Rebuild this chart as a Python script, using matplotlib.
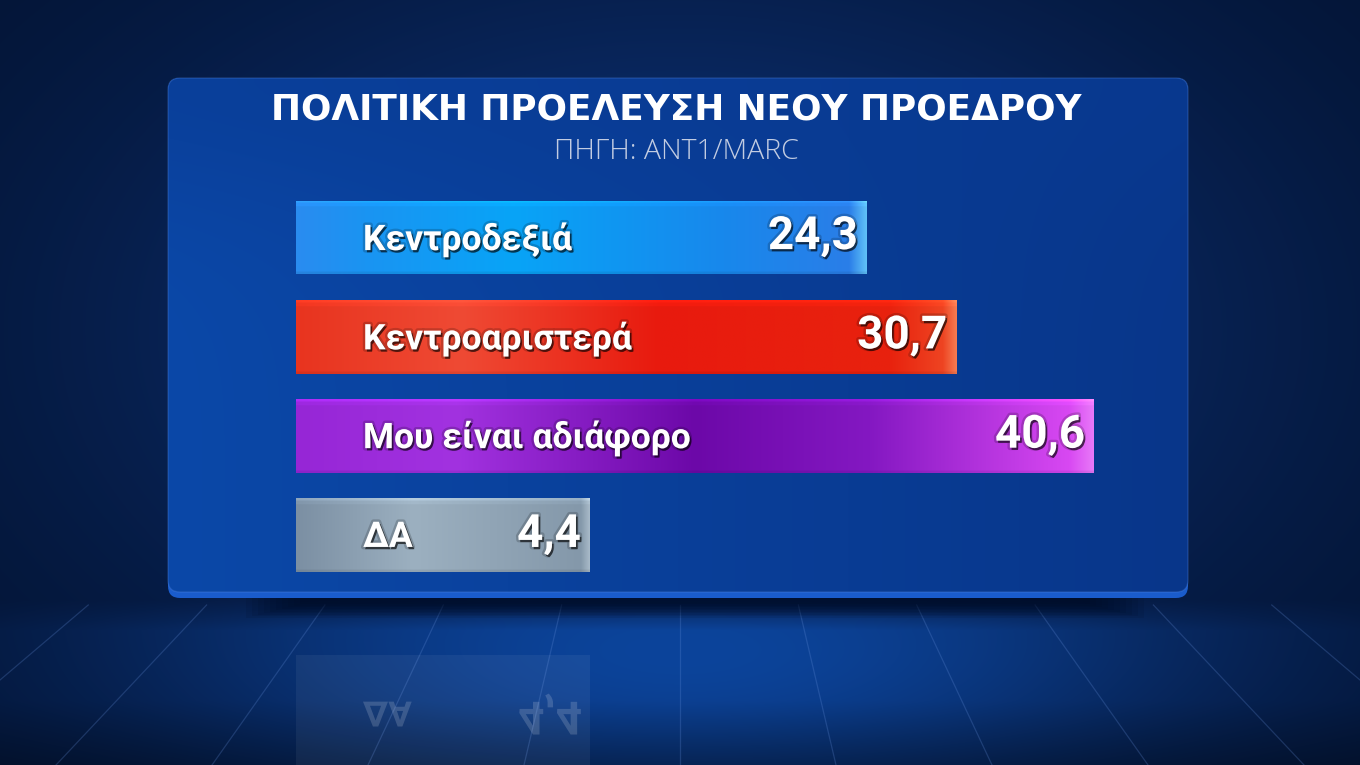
import numpy as np
import matplotlib
matplotlib.use("Agg")
import matplotlib.pyplot as plt
from matplotlib.patches import FancyBboxPatch, Rectangle, PathPatch
from matplotlib.colors import to_rgb
import matplotlib.patheffects as pe
from matplotlib.textpath import TextPath
from matplotlib.font_manager import FontProperties
from matplotlib.transforms import Affine2D

# ---------------- data ----------------
categories = ["Κεντροδεξιά", "Κεντροαριστερά", "Μου είναι αδιάφορο", "ΔΑ"]
values = [24.3, 30.7, 40.6, 4.4]
value_labels = ["24,3", "30,7", "40,6", "4,4"]
title = "ΠΟΛΙΤΙΚΗ ΠΡΟΕΛΕΥΣΗ ΝΕΟΥ ΠΡΟΕΔΡΟΥ"
subtitle = "ΠΗΓΗ: ANT1/MARC"

# ---------------- style ----------------
BASE = -16.7          # visual start of every bar (bars carry a fixed stub)
XMAX = 40.6
LABEL_FONT = ["Roboto", "DejaVu Sans"]
bar_stops = [
    [(0.0, "#2a8cf0"), (0.12, "#1a94f2"), (0.38, "#08a4f7"), (0.75, "#1888ec"), (0.97, "#2a7ee8"), (1.0, "#5fc0f8")],
    [(0.0, "#e8341f"), (0.25, "#ef4a34"), (0.55, "#e81a0e"), (0.9, "#e8220e"), (0.98, "#ee4422"), (1.0, "#f57a50")],
    [(0.0, "#9626d6"), (0.2, "#a232e0"), (0.5, "#6c08a8"), (0.72, "#8418c2"), (0.97, "#d848f2"), (1.0, "#e878f8")],
    [(0.0, "#7b8fa3"), (0.4, "#9cb0c0"), (0.97, "#8498aa"), (1.0, "#a8bac8")],
]

W, H = 1360, 765
fig = plt.figure(figsize=(W / 100, H / 100), dpi=100)

# ---------------- background ----------------
bg = fig.add_axes([0, 0, 1, 1])
bg.set_xlim(0, W)
bg.set_ylim(H, 0)
bg.axis("off")

yy, xx = np.mgrid[0:H, 0:W].astype(float)
dark = np.array([3, 18, 48]) / 255
mid = np.array([12, 50, 118]) / 255
floor = np.array([12, 68, 155]) / 255
w1 = np.exp(-(((xx - 680) / 760) ** 2 + ((yy - 330) / 480) ** 2) * 1.6)
img = dark + (mid - dark) * w1[..., None]
fl = np.clip((yy - 600) / 30, 0, 1)
w2 = np.exp(-(((xx - 680) / 560) ** 2 + ((yy - 650) / 170) ** 2) * 1.4) * fl
img = img + (floor - img) * w2[..., None]
bot = np.clip((yy - 700) / 65, 0, 1) * 0.25
img = img * (1 - bot[..., None])
bg.imshow(np.clip(img, 0, 1), extent=(0, W, H, 0), aspect="auto", zorder=0, interpolation="bilinear")

# floor lines (perspective)
vpx, vpy = 680, 102
for k in range(-7, 8):
    xt = vpx + 120 * k
    y0, y1 = 605, 765
    x0 = vpx + (xt - vpx) * (y0 - vpy) / (612 - vpy)
    x1 = vpx + (xt - vpx) * (y1 - vpy) / (612 - vpy)
    bg.plot([x0, x1], [y0, y1], color="#6a94e0", alpha=0.24, lw=0.9, zorder=1)

# panel shadow
for j in range(10):
    bg.add_patch(Rectangle((300 - j * 6, 598), 790 + j * 12, 6 + j * 1.5,
                           facecolor="#000a20", alpha=0.10, lw=0, zorder=2))

# panel (lip + body)
r = 12
px0, px1, py0, py1 = 168, 1188, 78, 598
lip = FancyBboxPatch((px0 + r, py0 + r), px1 - px0 - 2 * r, py1 - py0 - 2 * r,
                     boxstyle=f"round,pad={r}", facecolor="#1a5ccc", edgecolor="none", zorder=3)
bg.add_patch(lip)
panel = FancyBboxPatch((px0 + r, py0 + r), px1 - px0 - 2 * r, py1 - py0 - 6 - 2 * r,
                       boxstyle=f"round,pad={r}", facecolor="none",
                       edgecolor=(0.35, 0.55, 0.9, 0.28), lw=1.0, zorder=5)
bg.add_patch(panel)
pw, ph = px1 - px0, py1 - py0
py, pxg = np.mgrid[0:ph, 0:pw].astype(float)
cl = np.array([11, 72, 168]) / 255
cr = np.array([8, 54, 138]) / 255
ct = np.array([9, 58, 146]) / 255
t = (pxg / pw)[..., None]
pimg = cl + (cr - cl) * t
vt = np.exp(-(py / 140) ** 2)[..., None]
pimg = pimg + (ct - pimg) * vt * 0.6
pim = bg.imshow(np.clip(pimg, 0, 1), extent=(px0, px1, py1, py0), aspect="auto", zorder=4)
pim.set_clip_path(FancyBboxPatch((px0 + r, py0 + r), pw - 2 * r, ph - 6 - 2 * r,
                                 boxstyle=f"round,pad={r}", transform=bg.transData))
bg.set_xlim(0, W)
bg.set_ylim(H, 0)

# ---------------- titles ----------------
fig.text(676.5 / W, 1 - 110 / H, title, ha="center", va="center", color="white",
         fontsize=25.8, fontweight="bold", family=["DejaVu Sans"], zorder=10)
fig.text(676 / W, 1 - 152 / H, subtitle, ha="center", va="center", color="#c2cce2",
         fontsize=20.5, fontweight="light", family=["Open Sans", "DejaVu Sans"], zorder=10)

# ---------------- bars ----------------
top_px, bot_px = 187.85, 585.0
ax = fig.add_axes([296 / W, 1 - bot_px / H, (1094 - 296) / W, (bot_px - top_px) / H])
ax.set_xlim(BASE, XMAX)
ax.set_ylim(3.5, -0.5)
ax.axis("off")
ax.patch.set_alpha(0)
ax.set_autoscale_on(False)

bh = 0.745
ypos = np.arange(len(values))
bars = ax.barh(ypos, [v - BASE for v in values], left=BASE, height=bh, color="none", lw=0, zorder=3)


def grad_img(stops, n=400, m=60):
    xs = np.linspace(0, 1, n)
    pos = [s[0] for s in stops]
    cols = np.array([to_rgb(s[1]) for s in stops])
    row = np.stack([np.interp(xs, pos, cols[:, c]) for c in range(3)], axis=-1)
    vert = np.ones(m)
    vert[:2] = 1.16
    vert[2:5] = 1.05
    vert[-2:] = 0.93
    out = row[None, :, :] * vert[:, None, None]
    return np.clip(out, 0, 1)


for i, (b, v) in enumerate(zip(bars, values)):
    im = ax.imshow(grad_img(bar_stops[i]), extent=(BASE, v, i + bh / 2, i - bh / 2),
                   aspect="auto", zorder=2, interpolation="bilinear")
    im.set_clip_path(b)

ax.set_xlim(BASE, XMAX)
ax.set_ylim(3.5, -0.5)

fx = [pe.SimplePatchShadow(offset=(1.2, -1.6), shadow_rgbFace="black", alpha=0.6),
      pe.Stroke(linewidth=3.5, foreground="black", alpha=0.18), pe.Normal()]
for i, (lab, v, vl) in enumerate(zip(categories, values, value_labels)):
    ax.annotate(lab, xy=(BASE, i), xytext=(67 * 0.72, -1.5), textcoords="offset points",
                ha="left", va="center", color="white", fontsize=25.5, fontweight="bold",
                family=LABEL_FONT, path_effects=fx, zorder=6)
    ax.annotate(vl, xy=(v, i), xytext=(-9 * 0.72, 1), textcoords="offset points",
                ha="right", va="center", color="white", fontsize=33, fontweight="bold",
                family=LABEL_FONT, path_effects=fx, zorder=6)

# ---------------- reflection of the last bar ----------------
REFL = 1.8
last = len(values) - 1
ax.add_patch(Rectangle((BASE, last + REFL - 0.6), values[last] - BASE, 1.25,
                       facecolor="white", alpha=0.055, lw=0, clip_on=False, zorder=1))
fig.canvas.draw()
fp = FontProperties(family=LABEL_FONT, weight="bold")


def flipped(s, x, y, size_px, dx_px, ha):
    tp = TextPath((0, 0), s, size=size_px, prop=fp)
    ext = tp.get_extents()
    ax_x, ax_y = ax.transData.transform((x, y))
    off = ext.x0 if ha == "left" else ext.x1
    tr = Affine2D().translate(-off, -(ext.y0 + ext.y1) / 2).scale(1, -1).translate(ax_x + dx_px, ax_y)
    fig.add_artist(PathPatch(tp, transform=tr, facecolor="white", edgecolor="none", alpha=0.16, zorder=2))


flipped(categories[last], BASE, last + REFL, 35, 67, "left")
flipped(value_labels[last], values[last], last + REFL, 46, -9, "right")

fig.savefig("out.png", dpi=100)
